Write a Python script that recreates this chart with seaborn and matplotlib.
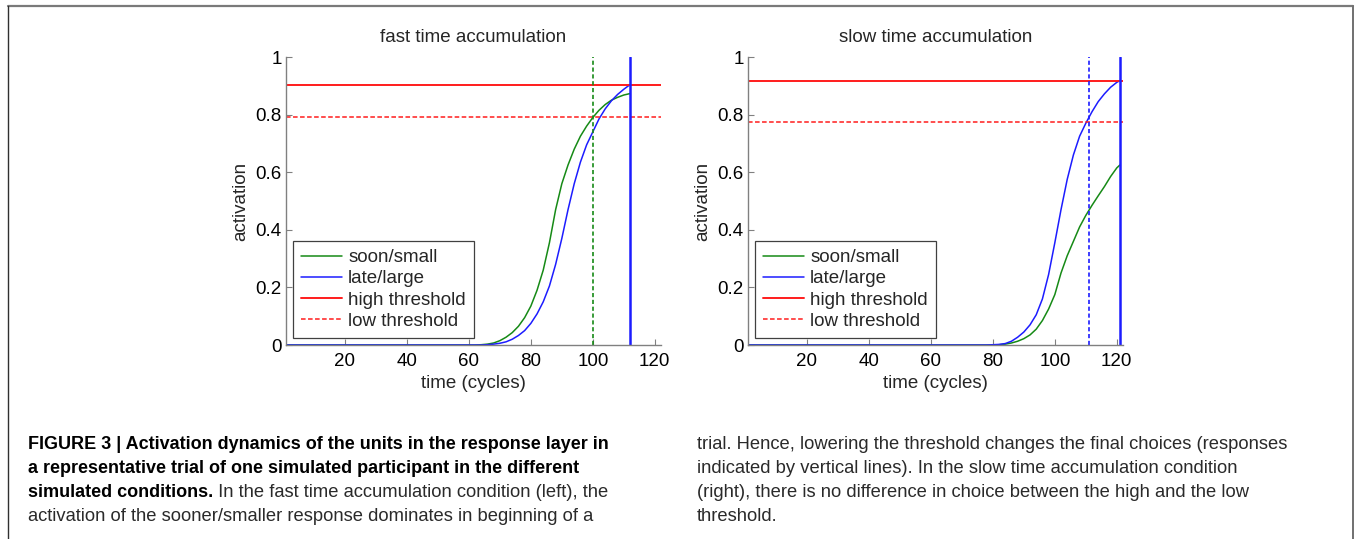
import matplotlib
matplotlib.use("Agg")
import matplotlib.pyplot as plt
from matplotlib.lines import Line2D
import seaborn as sns

# ---------------- data ----------------
time_fast = [1, 60, 62, 64, 66, 68, 70, 72, 74, 76, 78, 80, 82, 84, 86, 88,
             90, 92, 94, 96, 98, 100, 102, 104, 106, 108, 110, 112]
soon_fast = [0, 0, 0, 0.001, 0.003, 0.007, 0.015, 0.027, 0.043, 0.065, 0.095, 0.135,
             0.19, 0.26, 0.355, 0.47, 0.56, 0.625, 0.68, 0.725, 0.76, 0.79, 0.815,
             0.835, 0.85, 0.86, 0.868, 0.873]
late_fast = [0, 0, 0, 0, 0.001, 0.003, 0.006, 0.011, 0.02, 0.033, 0.05, 0.075,
             0.108, 0.15, 0.205, 0.28, 0.37, 0.47, 0.56, 0.635, 0.695, 0.74, 0.785,
             0.82, 0.848, 0.87, 0.888, 0.904]
high_fast = 0.904
low_fast = 0.792
resp_low_fast = 100   # soon/small chosen with low threshold
resp_high_fast = 112  # late/large chosen with high threshold

time_slow = [1, 78, 80, 82, 84, 86, 88, 90, 92, 94, 96, 98, 100, 102, 104, 106,
             108, 110, 112, 114, 116, 118, 120, 121]
soon_slow = [0, 0, 0, 0.001, 0.003, 0.007, 0.013, 0.022, 0.035, 0.055, 0.085, 0.125,
             0.175, 0.25, 0.31, 0.36, 0.41, 0.45, 0.485, 0.518, 0.55, 0.585, 0.615, 0.625]
late_slow = [0, 0, 0.001, 0.002, 0.005, 0.013, 0.027, 0.045, 0.07, 0.105, 0.16, 0.245,
             0.355, 0.47, 0.575, 0.66, 0.725, 0.77, 0.81, 0.845, 0.872, 0.895, 0.912, 0.918]
high_slow = 0.918
low_slow = 0.775
resp_low_slow = 111
resp_high_slow = 121

titles = ["fast time accumulation", "slow time accumulation"]
legend_labels = ["soon/small", "late/large", "high threshold", "low threshold"]
xticks = [20, 40, 60, 80, 100, 120]
yticks = [0, 0.2, 0.4, 0.6, 0.8, 1]
ytick_labels = ["0", "0.2", "0.4", "0.6", "0.8", "1"]
xlabel = "time (cycles)"
ylabel = "activation"

caption_left_bold = [
    "FIGURE 3 | Activation dynamics of the units in the response layer in",
    "a representative trial of one simulated participant in the different",
    "simulated conditions.",
]
caption_left_normal = [
    " In the fast time accumulation condition (left), the",
    "activation of the sooner/smaller response dominates in beginning of a",
]
caption_right = [
    "trial. Hence, lowering the threshold changes the final choices (responses",
    "indicated by vertical lines). In the slow time accumulation condition",
    "(right), there is no difference in choice between the high and the low",
    "threshold.",
]

# ---------------- style ----------------
sns.set_style("ticks")
plt.rcParams["font.family"] = ["Liberation Sans", "DejaVu Sans"]
plt.rcParams["xtick.direction"] = "in"
plt.rcParams["ytick.direction"] = "in"

GREEN = "#168a16"
BLUE = "#1c1cff"
RED = "#ff1c1c"
AXC = "#808080"
FS = 13.5

W, H = 1356, 539
fig = plt.figure(figsize=(W / 100, H / 100), dpi=100)

ax_pos = [(286, 57, 375, 288), (748, 57, 375, 288)]
panels = [
    (time_fast, soon_fast, late_fast, high_fast, low_fast, resp_low_fast, resp_high_fast, GREEN),
    (time_slow, soon_slow, late_slow, high_slow, low_slow, resp_low_slow, resp_high_slow, BLUE),
]

for i, (pos, pdata) in enumerate(zip(ax_pos, panels)):
    x0, y0, w, h = pos
    ax = fig.add_axes([x0 / W, 1 - (y0 + h) / H, w / W, h / H])
    t, soon, late, hi, lo, rlow, rhigh, rlow_color = pdata

    sns.lineplot(x=t, y=soon, ax=ax, color=GREEN, linewidth=1.1, label=legend_labels[0])
    sns.lineplot(x=t, y=late, ax=ax, color=BLUE, linewidth=1.1, label=legend_labels[1])
    ax.axhline(hi, color=RED, linewidth=1.4, label=legend_labels[2])
    ax.axhline(lo, color=RED, linewidth=1.1, linestyle=(0, (3, 1.6)), label=legend_labels[3])
    ax.axvline(rlow, color=rlow_color, linewidth=1.2, linestyle=(0, (2.5, 1.6)))
    ax.axvline(rhigh, color=BLUE, linewidth=1.8)

    ax.set_xlim(1, 122)
    ax.set_ylim(0, 1)
    ax.set_xticks(xticks)
    ax.set_xticklabels([str(v) for v in xticks])
    ax.set_yticks(yticks)
    ax.set_yticklabels(ytick_labels)
    ax.tick_params(axis="both", labelsize=FS, length=4, width=0.8, color=AXC,
                   labelcolor="black")
    ax.tick_params(axis="x", pad=6)
    ax.tick_params(axis="y", pad=3)
    for s in ["top", "right"]:
        ax.spines[s].set_visible(False)
    for s in ["left", "bottom"]:
        ax.spines[s].set_color(AXC)
        ax.spines[s].set_linewidth(1.0)
    ax.set_xlabel(xlabel, fontsize=FS, labelpad=3)
    ax.set_ylabel(ylabel, fontsize=FS, labelpad=4.5)
    ax.set_title(titles[i], fontsize=FS, pad=11)

    handles, labels = ax.get_legend_handles_labels()
    leg = ax.legend(handles, labels, loc="lower left", bbox_to_anchor=(0.018, 0.023),
                    borderaxespad=0, fontsize=FS, frameon=True, fancybox=False,
                    edgecolor="#404040", framealpha=1, handlelength=2.2,
                    handletextpad=0.3, labelspacing=0.22, borderpad=0.45)
    leg.get_frame().set_linewidth(0.9)

# ---------------- frame ----------------
fig.add_artist(Line2D([8 / W, 1353 / W], [1 - 6 / H, 1 - 6 / H], color="#7a7a7a", linewidth=1.6))
fig.add_artist(Line2D([8 / W, 8 / W], [0, 1 - 6 / H], color="#303030", linewidth=1.0))
fig.add_artist(Line2D([1353 / W, 1353 / W], [0, 1 - 6 / H], color="#707070", linewidth=1.4))

# ---------------- caption ----------------
cap_font = ["Liberation Sans", "DejaVu Sans"]
bold_size = 13.0
norm_size = 13.2
baselines = [449, 473, 497, 521]
lx, rx = 28, 697
fig.canvas.draw()
renderer = fig.canvas.get_renderer()
for k in range(2):
    fig.text(lx / W, 1 - baselines[k] / H, caption_left_bold[k], family=cap_font,
             fontsize=bold_size, fontweight="bold", color="black", va="baseline")
tb = fig.text(lx / W, 1 - baselines[2] / H, caption_left_bold[2], family=cap_font,
              fontsize=bold_size, fontweight="bold", color="black", va="baseline")
bb = tb.get_window_extent(renderer)
fig.text(bb.x1 / W, 1 - baselines[2] / H, caption_left_normal[0], family=cap_font,
         fontsize=norm_size, color="#2a2a2a", va="baseline")
fig.text(lx / W, 1 - baselines[3] / H, caption_left_normal[1], family=cap_font,
         fontsize=norm_size, color="#2a2a2a", va="baseline")
for k, line in enumerate(caption_right):
    fig.text(rx / W, 1 - baselines[k] / H, line, family=cap_font,
             fontsize=norm_size, color="#2a2a2a", va="baseline")

fig.savefig("out.png", dpi=100)
